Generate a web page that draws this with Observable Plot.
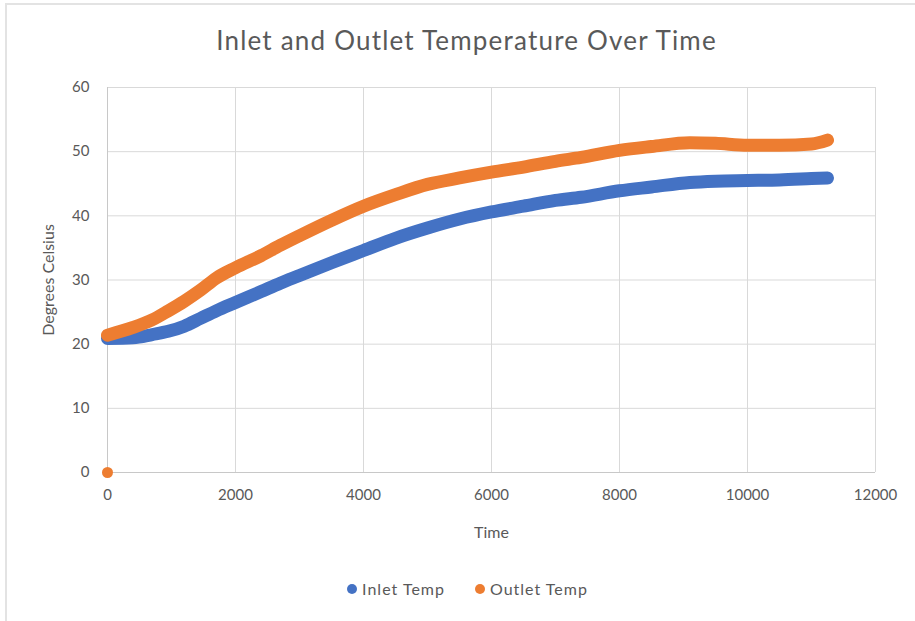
<!DOCTYPE html>
<html><head><meta charset="utf-8">
<script src="https://cdn.jsdelivr.net/npm/d3@7"></script>
<script src="https://cdn.jsdelivr.net/npm/@observablehq/plot@0.6"></script>
<style>
body{margin:0;background:#fff;font-family:Lato,sans-serif;}
#wrap{position:relative;width:915px;height:621px;overflow:hidden;background:#fff;}
#frame{position:absolute;left:5px;top:3px;width:920px;height:630px;border-top:2px solid #e3e3e3;border-left:2px solid #e3e3e3;pointer-events:none;}
#title{position:absolute;top:24px;left:0;width:915px;padding-left:18px;box-sizing:border-box;text-align:center;font-size:26px;letter-spacing:1.2px;color:#595959;}
#legend{position:absolute;top:579px;left:0;width:915px;display:flex;justify-content:center;gap:30px;font-size:16px;letter-spacing:1px;color:#595959;padding-left:20px;box-sizing:border-box;}
#legend span{display:flex;align-items:center;}
#legend i{display:inline-block;width:10px;height:10px;border-radius:50%;margin-right:5px;}
#chart{position:absolute;left:0;top:0;}
.ax-label text{letter-spacing:1px;}
</style></head>
<body>
<div id="wrap">
  <div id="chart"></div>
  <div id="title">Inlet and Outlet Temperature Over Time</div>
  <div id="legend"></div>
  <div id="frame"></div>
</div>
<script>
const inletTime = [0, 400, 700, 950, 1200, 1450, 1700, 2000, 2400, 2700, 3000, 3500, 4000, 4500, 5000, 5500, 6000, 6500, 7000, 7400, 8000, 8500, 9100, 9500, 10000, 10500, 11000, 11250];
const inletTemp = [20.9, 21.0, 21.5, 22.0, 22.8, 24.0, 25.2, 26.5, 28.2, 29.5, 30.7, 32.7, 34.6, 36.5, 38.1, 39.5, 40.6, 41.5, 42.4, 42.9, 43.9, 44.5, 45.2, 45.4, 45.5, 45.6, 45.8, 45.9];
const outletTime = [0, 400, 700, 950, 1200, 1450, 1700, 2000, 2400, 2700, 3000, 3500, 4000, 4500, 5000, 5500, 6000, 6500, 7000, 7400, 8000, 8500, 9100, 9500, 10000, 10500, 11000, 11250];
const outletTemp = [21.4, 22.6, 23.8, 25.2, 26.7, 28.4, 30.3, 31.9, 33.8, 35.4, 36.9, 39.3, 41.5, 43.3, 44.9, 45.9, 46.8, 47.6, 48.5, 49.1, 50.2, 50.8, 51.4, 51.3, 51.0, 51.0, 51.2, 51.8];
const outletOutlierTime = [0];
const outletOutlierTemp = [0];
const xTicks = [0, 2000, 4000, 6000, 8000, 10000, 12000];
const yTicks = [0, 10, 20, 30, 40, 50, 60];
const seriesNames = ["Inlet Temp", "Outlet Temp"];
const seriesColors = ["#4472C4", "#ED7D31"];

const inlet = inletTime.map((t, i) => ({time: t, temp: inletTemp[i]}));
const outlet = outletTime.map((t, i) => ({time: t, temp: outletTemp[i]}));
const outlier = outletOutlierTime.map((t, i) => ({time: t, temp: outletOutlierTemp[i]}));

const plot = Plot.plot({
  width: 915,
  height: 621,
  marginLeft: 107,
  marginRight: 40,
  marginTop: 87,
  marginBottom: 149,
  style: {fontFamily: "Lato, sans-serif", fontSize: "15px", color: "#595959", background: "transparent"},
  x: {domain: [0, 12000], label: null},
  y: {domain: [0, 60], label: null},
  marks: [
    Plot.gridX(xTicks, {stroke: "#d9d9d9", strokeOpacity: 1}),
    Plot.gridY(yTicks, {stroke: "#d9d9d9", strokeOpacity: 1}),
    Plot.ruleX([0], {stroke: "#c8c8c8"}),
    Plot.ruleY([0], {stroke: "#c8c8c8"}),
    Plot.axisX({ticks: xTicks, tickSize: 0, tickPadding: 17, tickFormat: d => String(d), fill: "#595959", fontSize: 15, label: null}),
    Plot.axisY({ticks: yTicks, tickSize: 0, tickPadding: 18, tickFormat: d => String(d), fill: "#595959", fontSize: 15, label: null}),
    Plot.axisX({ticks: [], tickSize: 0, label: "Time", labelAnchor: "center", labelArrow: "none", labelOffset: 65, fontSize: 16, fill: "#595959", className: "ax-label"}),
    Plot.axisY({ticks: [], tickSize: 0, label: "Degrees Celsius", labelAnchor: "center", labelArrow: "none", labelOffset: 65, fontSize: 16, fill: "#595959", className: "ax-label"}),
    Plot.line(inlet, {x: "time", y: "temp", stroke: seriesColors[0], strokeWidth: 13, curve: "monotone-x", strokeLinecap: "round", strokeLinejoin: "round"}),
    Plot.line(outlet, {x: "time", y: "temp", stroke: seriesColors[1], strokeWidth: 13, curve: "monotone-x", strokeLinecap: "round", strokeLinejoin: "round"}),
    Plot.dot(outlier, {x: "time", y: "temp", r: 5.5, fill: seriesColors[1], stroke: "none"})
  ]
});
document.getElementById("chart").appendChild(plot);
const leg = document.getElementById("legend");
seriesNames.forEach((n, i) => {
  const s = document.createElement("span");
  s.innerHTML = `<i style="background:${seriesColors[i]}"></i>${n}`;
  leg.appendChild(s);
});
</script>
</body></html>
